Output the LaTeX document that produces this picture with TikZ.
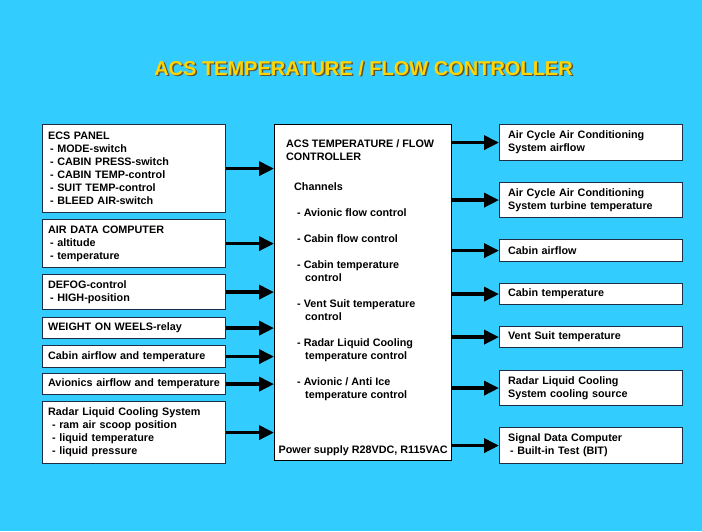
\documentclass[tikz,border=0pt]{standalone}
\usepackage{fontspec}
\setmainfont{Liberation Sans}
\usetikzlibrary{positioning,calc,arrows.meta}
\definecolor{skyblue}{RGB}{51,204,255}
\definecolor{titleyellow}{RGB}{255,212,0}
\definecolor{titleshadow}{RGB}{90,85,60}
\definecolor{boxline}{RGB}{30,45,70}

\begin{document}
\begin{tikzpicture}[x=1pt, y=-1pt,
    txt/.style={inner sep=0pt, align=left, font=\fontsize{10.8}{13}\selectfont\bfseries},
    lbox/.style={txt, draw=boxline, line width=1.2pt, fill=white, anchor=north west,
        text width=172pt, inner xsep=5.5pt},
    rbox/.style={lbox, text width=166pt, inner xsep=8.5pt},
    ttl/.style={font=\fontsize{20}{24}\selectfont\bfseries},
    arr/.style={line width=3.5pt, -{Triangle[length=15pt, width=14pt]}}]
    % Background
    \fill[skyblue] (0,0) rectangle (702,531);
    \node[ttl, text=titleshadow] (ttlshadow) at (365,69.5) {ACS TEMPERATURE / FLOW CONTROLLER};
    \node[ttl, text=titleyellow] (ttl) at (363.5,68) {ACS TEMPERATURE / FLOW CONTROLLER};

    % Inputs
    \node[lbox, minimum height=88] (ecs) at (42,124) {ECS PANEL\\
        \hspace*{2pt}- MODE-switch\\ \hspace*{2pt}- CABIN PRESS-switch\\
        \hspace*{2pt}- CABIN TEMP-control\\ \hspace*{2pt}- SUIT TEMP-control\\
        \hspace*{2pt}- BLEED AIR-switch};
    \node[lbox, minimum height=48] (adc) at (42,219) {AIR DATA COMPUTER\\
        \hspace*{2pt}- altitude\\ \hspace*{2pt}- temperature};
    \node[lbox, minimum height=35] (defog) at (42,274) {DEFOG-control\\
        \hspace*{2pt}- HIGH-position};
    \node[lbox, minimum height=21] (wow) at (42,317) {WEIGHT ON WEELS-relay};
    \node[lbox, minimum height=22] (cabin) at (42,345) {Cabin airflow and temperature};
    \node[lbox, minimum height=21] (avio) at (42,373) {Avionics airflow and temperature};
    \node[lbox, minimum height=62] (radar) at (42,401) {Radar Liquid Cooling System\\
        \hspace*{4pt}- ram air scoop position\\ \hspace*{4pt}- liquid temperature\\
        \hspace*{4pt}- liquid pressure};

    % Controller
    \node[draw, line width=1.2pt, fill=white, minimum width=177, minimum height=336,
        anchor=north west] (ctrl) at (274,124) {};
    \node[txt, anchor=north west] (chan) at ($(ctrl.north west)+(12,15)$) {ACS TEMPERATURE / FLOW\\
        CONTROLLER\\[17pt]
        \hspace*{8pt}Channels\\[13pt]
        \hspace*{11pt}- Avionic flow control\\[13pt]
        \hspace*{11pt}- Cabin flow control\\[13pt]
        \hspace*{11pt}- Cabin temperature\\ \hspace*{19pt}control\\[13pt]
        \hspace*{11pt}- Vent Suit temperature\\ \hspace*{19pt}control\\[13pt]
        \hspace*{11pt}- Radar Liquid Cooling\\ \hspace*{19pt}temperature control\\[13pt]
        \hspace*{11pt}- Avionic / Anti Ice\\ \hspace*{19pt}temperature control};
    \node[txt, anchor=south] (power) at ($(ctrl.south)+(0,-5)$) {Power supply R28VDC, R115VAC};

    % Outputs
    \node[rbox, minimum height=36] (acflow) at (499,124) {Air Cycle Air Conditioning\\System airflow};
    \node[rbox, minimum height=35] (acturb) at (499,182) {Air Cycle Air Conditioning\\System turbine temperature};
    \node[rbox, minimum height=22] (cabflow) at (499,239) {Cabin airflow};
    \node[rbox, minimum height=21] (cabtemp) at (499,283) {Cabin temperature};
    \node[rbox, minimum height=21] (vent) at (499,326) {Vent Suit temperature};
    \node[rbox, minimum height=35] (rlcs) at (499,370) {Radar Liquid Cooling\\System cooling source};
    \node[rbox, minimum height=36] (sdc) at (499,427) {Signal Data Computer\\
        \hspace*{2pt}- Built-in Test (BIT)};

    % Arrows
    \foreach \n in {ecs,adc,defog,wow,cabin,avio,radar}
        \draw[arr] (\n.east) -- (\n.east -| ctrl.west);
    \foreach \n in {acflow,acturb,cabflow,cabtemp,vent,rlcs,sdc}
        \draw[arr] (ctrl.east |- \n.west) -- (\n.west);
\end{tikzpicture}
\end{document}
